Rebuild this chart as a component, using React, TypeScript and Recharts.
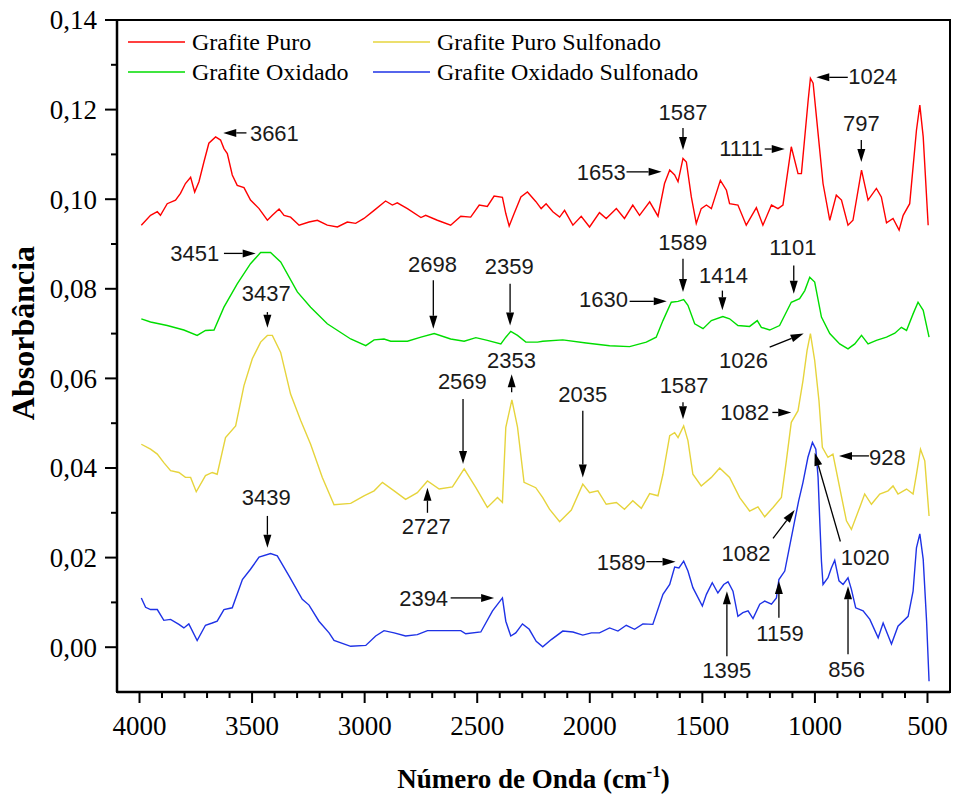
import React from 'react';
import { LineChart, Line, XAxis, YAxis, ReferenceLine, ReferenceDot, ReferenceArea, Legend } from 'recharts';

// ---------- series ----------
const seriesNames = ['Grafite Puro', 'Grafite Oxidado', 'Grafite Puro Sulfonado', 'Grafite Oxidado Sulfonado'];
const seriesColors = ['#ff0000', '#00dd00', '#e6d43c', '#1e32e6'];

const puroWave = [3992,3951,3921,3907,3877,3840,3818,3796,3773,3755,3736,3714,3692,3662,3640,3625,3610,3588,3566,3536,3507,3469,3432,3410,3380,3358,3329,3291,3247,3210,3166,3121,3077,3040,3003,2958,2907,2877,2855,2810,2750,2729,2677,2618,2573,2529,2491,2455,2425,2388,2373,2358,2336,2306,2277,2240,2216,2194,2164,2134,2112,2075,2038,2001,1957,1927,1882,1846,1809,1779,1734,1697,1668,1645,1623,1608,1586,1571,1549,1527,1505,1482,1460,1420,1393,1379,1342,1305,1260,1231,1193,1164,1142,1105,1075,1060,1030,1020,1008,986,964,934,905,882,853,831,793,764,727,705,682,653,626,608,579,549,534,519,497];
const puroAbs = [0.0942,0.0964,0.0972,0.0964,0.0990,0.0998,0.1013,0.1035,0.1049,0.1016,0.1039,0.1083,0.1125,0.1139,0.1132,0.1113,0.1102,0.1054,0.1031,0.1026,0.0998,0.0979,0.0953,0.0964,0.0978,0.0964,0.0960,0.0942,0.0949,0.0953,0.0942,0.0938,0.0949,0.0946,0.0957,0.0975,0.0996,0.0987,0.0992,0.0979,0.0959,0.0964,0.0953,0.0942,0.0962,0.0960,0.0987,0.0984,0.1007,0.1004,0.0968,0.0940,0.0968,0.1005,0.1016,0.0995,0.0979,0.0990,0.0972,0.0960,0.0975,0.0942,0.0962,0.0938,0.0970,0.0957,0.0979,0.0957,0.0987,0.0964,0.0994,0.0962,0.1035,0.1065,0.1054,0.1039,0.1091,0.1083,0.1005,0.0946,0.0979,0.0987,0.0979,0.1042,0.1020,0.0990,0.0987,0.0942,0.0981,0.0942,0.0987,0.0979,0.0987,0.1117,0.1057,0.1057,0.1221,0.1270,0.1259,0.1147,0.1035,0.0953,0.1009,0.0998,0.0942,0.0953,0.1065,0.0998,0.1024,0.1005,0.0947,0.0957,0.0931,0.0964,0.0990,0.1154,0.1210,0.1139,0.0942];

const oxiWave = [3992,3951,3877,3803,3744,3707,3669,3625,3566,3507,3462,3418,3373,3299,3240,3166,3062,2995,2958,2914,2884,2810,2750,2691,2618,2558,2506,2455,2395,2373,2351,2321,2284,2232,2209,2120,2016,1912,1823,1749,1705,1675,1638,1608,1583,1564,1534,1497,1460,1409,1379,1342,1290,1256,1238,1201,1157,1105,1068,1045,1023,1001,971,934,890,853,823,793,764,727,682,645,616,593,564,542,519,493];
const oxiAbs = [0.0733,0.0726,0.0718,0.0708,0.0696,0.0707,0.0708,0.0759,0.0811,0.0856,0.0881,0.0881,0.0860,0.0793,0.0759,0.0722,0.0688,0.0673,0.0686,0.0688,0.0683,0.0683,0.0692,0.0700,0.0688,0.0683,0.0691,0.0685,0.0677,0.0692,0.0705,0.0696,0.0681,0.0681,0.0683,0.0686,0.0679,0.0673,0.0671,0.0681,0.0692,0.0729,0.0770,0.0772,0.0776,0.0763,0.0722,0.0711,0.0729,0.0738,0.0733,0.0718,0.0716,0.0729,0.0714,0.0708,0.0718,0.0770,0.0778,0.0796,0.0826,0.0815,0.0737,0.0700,0.0677,0.0666,0.0677,0.0696,0.0677,0.0685,0.0692,0.0701,0.0714,0.0707,0.0744,0.0770,0.0752,0.0692];

const puroSulfWave = [3992,3951,3921,3892,3862,3825,3796,3773,3748,3707,3677,3655,3618,3573,3536,3499,3462,3432,3410,3373,3329,3284,3240,3188,3136,3062,3003,2958,2921,2869,2818,2766,2721,2669,2610,2558,2506,2455,2410,2388,2373,2346,2321,2292,2240,2209,2179,2134,2082,2031,2001,1964,1927,1882,1846,1809,1771,1734,1697,1675,1645,1623,1608,1583,1564,1542,1505,1460,1423,1379,1334,1290,1253,1223,1186,1149,1127,1105,1075,1053,1035,1020,1001,982,967,942,920,890,860,838,801,779,749,712,675,653,631,593,564,549,531,512,493];
const puroSulfAbs = [0.0453,0.0442,0.0431,0.0412,0.0394,0.0390,0.0379,0.0379,0.0347,0.0383,0.0390,0.0386,0.0468,0.0494,0.0584,0.0644,0.0681,0.0696,0.0696,0.0658,0.0565,0.0506,0.0453,0.0379,0.0318,0.0321,0.0338,0.0349,0.0368,0.0349,0.0330,0.0345,0.0371,0.0353,0.0358,0.0398,0.0356,0.0312,0.0334,0.0323,0.0491,0.0552,0.0491,0.0368,0.0356,0.0334,0.0308,0.0280,0.0306,0.0364,0.0345,0.0349,0.0319,0.0323,0.0308,0.0327,0.0310,0.0343,0.0338,0.0386,0.0472,0.0479,0.0468,0.0494,0.0461,0.0386,0.0360,0.0379,0.0400,0.0379,0.0334,0.0304,0.0313,0.0291,0.0312,0.0334,0.0416,0.0502,0.0528,0.0595,0.0662,0.0700,0.0640,0.0550,0.0446,0.0424,0.0431,0.0356,0.0282,0.0263,0.0312,0.0342,0.0319,0.0342,0.0349,0.0360,0.0342,0.0353,0.0342,0.0386,0.0442,0.0416,0.0293];

const oxiSulfWave = [3992,3973,3951,3921,3892,3862,3825,3803,3781,3744,3707,3677,3655,3625,3588,3543,3507,3469,3418,3388,3336,3277,3247,3203,3158,3136,3062,2995,2951,2914,2869,2818,2766,2721,2618,2573,2551,2484,2432,2388,2373,2351,2329,2299,2269,2238,2209,2171,2120,2075,2031,1993,1957,1912,1875,1838,1801,1764,1720,1675,1645,1623,1604,1583,1564,1542,1500,1482,1456,1431,1405,1386,1364,1342,1320,1297,1275,1245,1223,1193,1171,1160,1134,1112,1090,1072,1053,1031,1011,996,986,979,971,964,942,927,912,893,875,853,838,819,786,756,719,697,660,631,586,564,549,534,519,504,493];
const oxiSulfAbs = [0.0110,0.0089,0.0084,0.0084,0.0060,0.0062,0.0051,0.0043,0.0052,0.0015,0.0049,0.0054,0.0058,0.0084,0.0088,0.0151,0.0174,0.0201,0.0209,0.0204,0.0159,0.0107,0.0094,0.0058,0.0032,0.0015,0.0002,0.0004,0.0025,0.0037,0.0032,0.0025,0.0028,0.0037,0.0037,0.0037,0.0030,0.0034,0.0081,0.0110,0.0058,0.0025,0.0032,0.0052,0.0040,0.0013,0.0001,0.0017,0.0036,0.0034,0.0027,0.0032,0.0032,0.0043,0.0036,0.0049,0.0040,0.0052,0.0051,0.0118,0.0140,0.0179,0.0177,0.0192,0.0170,0.0133,0.0092,0.0118,0.0144,0.0121,0.0140,0.0146,0.0125,0.0069,0.0077,0.0081,0.0064,0.0096,0.0103,0.0096,0.0110,0.0151,0.0170,0.0226,0.0282,0.0327,0.0368,0.0424,0.0457,0.0442,0.0379,0.0289,0.0192,0.0140,0.0155,0.0177,0.0194,0.0148,0.0140,0.0155,0.0129,0.0088,0.0081,0.0062,0.0021,0.0054,0.0007,0.0047,0.0069,0.0125,0.0222,0.0253,0.0196,0.0058,-0.0076];

// ---------- axes ----------
const xDomain = [400, 4100];
const yDomain = [-0.01, 0.14];
const xTicks = [4000,3900,3800,3700,3600,3500,3400,3300,3200,3100,3000,2900,2800,2700,2600,2500,2400,2300,2200,2100,2000,1900,1800,1700,1600,1500,1400,1300,1200,1100,1000,900,800,700,600,500];
const xMajorTicks = [4000, 3500, 3000, 2500, 2000, 1500, 1000, 500];
const yTicks = [0,0.01,0.02,0.03,0.04,0.05,0.06,0.07,0.08,0.09,0.10,0.11,0.12,0.13,0.14];
const yMajorTicks = [0,0.02,0.04,0.06,0.08,0.10,0.12,0.14];
const xTitle = 'Número de Onda (cm';
const xTitleSup = '-1';
const yTitle = 'Absorbância';

// ---------- peak annotations (data coordinates) ----------
const annotations = [
  { t: '3661', tx: 3401, ty: 0.1148, x1: 3525, y1: 0.1148, x2: 3628, y2: 0.1148 },
  { t: '1653', tx: 1949, ty: 0.1061, x1: 1837, y1: 0.1061, x2: 1681, y2: 0.1061 },
  { t: '1587', tx: 1586, ty: 0.1195, x1: 1586, y1: 0.1159, x2: 1586, y2: 0.1110 },
  { t: '1111', tx: 1327, ty: 0.1113, x1: 1223, y1: 0.1112, x2: 1134, y2: 0.1112 },
  { t: '1024', tx: 743, ty: 0.1275, x1: 854, y1: 0.1272, x2: 994, y2: 0.1272 },
  { t: '797', tx: 794, ty: 0.1169, x1: 794, y1: 0.1132, x2: 794, y2: 0.1083 },
  { t: '3451', tx: 3755, ty: 0.0879, x1: 3625, y1: 0.0879, x2: 3484, y2: 0.0879 },
  { t: '2698', tx: 2699, ty: 0.0856, x1: 2695, y1: 0.0819, x2: 2695, y2: 0.0711 },
  { t: '2359', tx: 2358, ty: 0.0850, x1: 2354, y1: 0.0811, x2: 2354, y2: 0.0718 },
  { t: '1589', tx: 1587, ty: 0.0904, x1: 1586, y1: 0.0867, x2: 1586, y2: 0.0793 },
  { t: '1414', tx: 1406, ty: 0.0830, x1: 1411, y1: 0.0796, x2: 1411, y2: 0.0752 },
  { t: '1101', tx: 1098, ty: 0.0893, x1: 1094, y1: 0.0852, x2: 1094, y2: 0.0789 },
  { t: '1630', tx: 1939, ty: 0.0776, x1: 1823, y1: 0.0772, x2: 1658, y2: 0.0772 },
  { t: '3437', tx: 3437, ty: 0.0790, x1: 3432, y1: 0.0748, x2: 3432, y2: 0.0713 },
  { t: '2353', tx: 2348, ty: 0.0641, x1: 2347, y1: 0.0569, x2: 2347, y2: 0.0609 },
  { t: '2569', tx: 2566, ty: 0.0594, x1: 2563, y1: 0.0554, x2: 2563, y2: 0.0409 },
  { t: '2727', tx: 2726, ty: 0.0271, x1: 2721, y1: 0.0300, x2: 2721, y2: 0.0356 },
  { t: '2035', tx: 2031, ty: 0.0565, x1: 2031, y1: 0.0528, x2: 2031, y2: 0.0379 },
  { t: '1587', tx: 1581, ty: 0.0584, x1: 1586, y1: 0.0547, x2: 1586, y2: 0.0509 },
  { t: '1026', tx: 1317, ty: 0.0641, x1: 1201, y1: 0.0670, x2: 1050, y2: 0.0700 },
  { t: '1082', tx: 1312, ty: 0.0524, x1: 1189, y1: 0.0524, x2: 1105, y2: 0.0524 },
  { t: '928', tx: 678, ty: 0.0424, x1: 760, y1: 0.0427, x2: 893, y2: 0.0427 },
  { t: '3439', tx: 3437, ty: 0.0334, x1: 3432, y1: 0.0293, x2: 3432, y2: 0.0222 },
  { t: '2394', tx: 2738, ty: 0.0110, x1: 2618, y1: 0.0110, x2: 2425, y2: 0.0110 },
  { t: '1589', tx: 1860, ty: 0.0191, x1: 1749, y1: 0.0191, x2: 1619, y2: 0.0191 },
  { t: '1395', tx: 1392, ty: -0.0050, x1: 1391, y1: -0.0020, x2: 1391, y2: 0.0125 },
  { t: '1159', tx: 1155, ty: 0.0032, x1: 1160, y1: 0.0066, x2: 1160, y2: 0.0148 },
  { t: '856', tx: 859, ty: -0.0048, x1: 853, y1: -0.0016, x2: 853, y2: 0.0136 },
  { t: '1082', tx: 1306, ty: 0.0211, x1: 1186, y1: 0.0243, x2: 1090, y2: 0.0306 },
  { t: '1020', tx: 777, ty: 0.0201, x1: 887, y1: 0.0236, x2: 1001, y2: 0.0434 },
];

const toData = (w: number[], a: number[]) => w.map((x, i) => ({ w: x, a: a[i] }));
const seriesData = [
  toData(puroWave, puroAbs),
  toData(oxiWave, oxiAbs),
  toData(puroSulfWave, puroSulfAbs),
  toData(oxiSulfWave, oxiSulfAbs),
];

const SERIF = '"Liberation Serif", "Times New Roman", serif';
const SANS = '"Liberation Sans", Arial, sans-serif';
const serifStyle = { fontFamily: SERIF };

const XTick = (props: any) => {
  const { x, y, payload } = props;
  const major = xMajorTicks.includes(payload.value);
  return (
    <g>
      <line x1={x} x2={x} y1={y} y2={y + (major ? 11 : 6)} stroke="#000" strokeWidth={2} />
      {major && (
        <text x={x} y={y + 43} textAnchor="middle" style={serifStyle} fontFamily={SERIF} fontSize={27} fill="#000">
          {payload.value}
        </text>
      )}
    </g>
  );
};

const YTick = (props: any) => {
  const { x, y, payload } = props;
  const major = yMajorTicks.some((v) => Math.abs(v - payload.value) < 1e-6);
  return (
    <g>
      <line x1={x} x2={x - (major ? 12 : 6)} y1={y} y2={y} stroke="#000" strokeWidth={2} />
      {major && (
        <text x={x - 20} y={y} dy="0.35em" textAnchor="end" style={serifStyle} fontFamily={SERIF} fontSize={27} fill="#000">
          {payload.value.toFixed(2).replace('.', ',')}
        </text>
      )}
    </g>
  );
};

const XTitle = (props: any) => {
  const vb = props.viewBox || { x: 117, y: 692, width: 833, height: 104 };
  return (
    <text x={vb.x + vb.width / 2} y={vb.y + 96} textAnchor="middle" style={serifStyle} fontFamily={SERIF} fontWeight="bold" fontSize={27} fill="#000">
      {xTitle}
      <tspan fontSize={17} dy={-11}>{xTitleSup}</tspan>
      <tspan dy={11}>)</tspan>
    </text>
  );
};

const YTitle = (props: any) => {
  const vb = props.viewBox || { x: 0, y: 20, width: 117, height: 672 };
  const cx = vb.x + 34;
  const cy = vb.y + 313;
  return (
    <text x={cx} y={cy} transform={`rotate(-90, ${cx}, ${cy})`} textAnchor="middle" style={serifStyle} fontFamily={SERIF} fontWeight="bold" fontSize={32} fill="#000">
      {yTitle}
    </text>
  );
};

const Arrow = (p: any) => {
  const { x1, y1, x2, y2 } = p;
  const dx = x2 - x1;
  const dy = y2 - y1;
  const len = Math.hypot(dx, dy) || 1;
  const ux = dx / len;
  const uy = dy / len;
  const hl = Math.min(13, len * 0.85);
  const hw = 4;
  const bx = x2 - ux * hl;
  const by = y2 - uy * hl;
  const nx = -uy;
  const ny = ux;
  return (
    <g>
      <line x1={x1} y1={y1} x2={bx} y2={by} stroke="#000" strokeWidth={1.3} />
      <polygon points={`${x2},${y2} ${bx + nx * hw},${by + ny * hw} ${bx - nx * hw},${by - ny * hw}`} fill="#000" />
    </g>
  );
};

const renderLegend = (props: any) => {
  const payload = props.payload || [];
  const ordered = seriesNames.map((n) => payload.find((e: any) => e.value === n)).filter(Boolean);
  return (
    <div style={{ display: 'grid', gridTemplateColumns: '245px auto', gridTemplateRows: '30px 30px', gridAutoFlow: 'column' }}>
      {ordered.map((e: any) => (
        <div key={e.value} style={{ display: 'flex', alignItems: 'center', height: 30 }}>
          <svg width={57} height={4} style={{ display: 'block' }}>
            <line x1={0} x2={57} y1={2} y2={2} stroke={e.color} strokeWidth={1.5} />
          </svg>
          <span style={{ marginLeft: 7, fontFamily: SERIF, fontSize: 24, lineHeight: '30px', color: '#000', whiteSpace: 'nowrap' }}>
            {e.value}
          </span>
        </div>
      ))}
    </div>
  );
};

export default function App() {
  return (
    <div style={{ position: 'absolute', left: 0, top: 0, background: '#fff' }}>
      <LineChart width={953} height={796} margin={{ top: 20, right: 3, left: 0, bottom: 0 }}>
        <XAxis
          dataKey="w"
          type="number"
          domain={xDomain}
          reversed
          allowDataOverflow
          ticks={xTicks}
          interval={0}
          tick={<XTick />}
          tickLine={false}
          tickSize={0}
          tickMargin={0}
          height={104}
          axisLine={{ stroke: '#000', strokeWidth: 2.5 }}
          label={<XTitle />}
        />
        <YAxis
          type="number"
          domain={yDomain}
          allowDataOverflow
          ticks={yTicks}
          interval={0}
          tick={<YTick />}
          tickLine={false}
          tickSize={0}
          tickMargin={0}
          width={117}
          axisLine={{ stroke: '#000', strokeWidth: 2.5 }}
          label={<YTitle />}
        />
        <ReferenceArea x1={xDomain[1]} x2={xDomain[0]} y1={yDomain[0]} y2={yDomain[1]} fill="none" fillOpacity={0} stroke="#000" strokeWidth={2} />
        <Legend content={renderLegend} layout="horizontal" align="center" verticalAlign="middle" wrapperStyle={{ left: 128, top: 27, width: 'auto', height: 'auto' }} />
        {seriesData.map((d, i) => (
          <Line
            key={seriesNames[i]}
            data={d}
            dataKey="a"
            name={seriesNames[i]}
            type="linear"
            stroke={seriesColors[i]}
            strokeWidth={1.4}
            dot={false}
            activeDot={false}
            isAnimationActive={false}
          />
        ))}
        {annotations.map((a, i) => (
          <ReferenceLine
            key={'arr' + i}
            segment={[{ x: a.x1, y: a.y1 }, { x: a.x2, y: a.y2 }]}
            ifOverflow="visible"
            shape={(p: any) => <Arrow {...p} />}
          />
        ))}
        {annotations.map((a, i) => (
          <ReferenceDot
            key={'txt' + i}
            x={a.tx}
            y={a.ty}
            r={0}
            ifOverflow="visible"
            shape={(p: any) => (
              <text x={p.cx} y={p.cy} dy="0.36em" textAnchor="middle" fontFamily={SANS} fontSize={22} fill="#1a1a1a">
                {a.t}
              </text>
            )}
          />
        ))}
      </LineChart>
    </div>
  );
}
